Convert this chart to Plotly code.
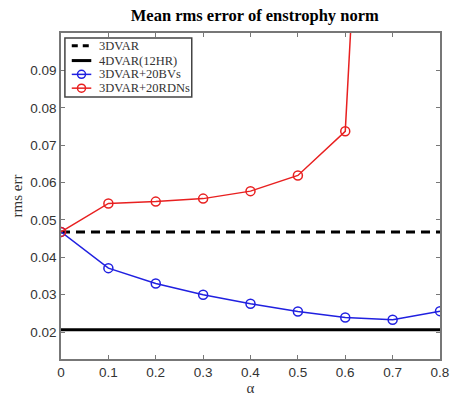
import plotly.graph_objects as go

alpha = [0, 0.1, 0.2, 0.3, 0.4, 0.5, 0.6, 0.7, 0.8]
bv = [0.0468, 0.0371, 0.0330, 0.0300, 0.0276, 0.0255, 0.0239, 0.0233, 0.0256]
alpha_rdn = [0, 0.1, 0.2, 0.3, 0.4, 0.5, 0.6, 0.7]
rdn = [0.0468, 0.0544, 0.0549, 0.0557, 0.0577, 0.0619, 0.0737, 0.31]
x_span = [0, 0.8]
var3d = [0.0468, 0.0468]
var4d = [0.0206, 0.0206]
xticks = [0, 0.1, 0.2, 0.3, 0.4, 0.5, 0.6, 0.7, 0.8]
yticks = [0.02, 0.03, 0.04, 0.05, 0.06, 0.07, 0.08, 0.09]
legend_names = ["3DVAR", "4DVAR(12HR)", "3DVAR+20BVs", "3DVAR+20RDNs"]

BLUE = "#2020e0"
RED = "#e82020"
styles = [
    dict(color="black", width=3, dash="6px,5px", marker=False),
    dict(color="black", width=3, dash="solid", marker=False),
    dict(color=BLUE, width=1.5, dash="solid", marker=True),
    dict(color=RED, width=1.5, dash="solid", marker=True),
]

fig = go.Figure()
fig.add_trace(go.Scatter(x=x_span, y=var3d, mode="lines", name=legend_names[0],
                         line=dict(color="black", width=3, dash="9px,6px")))
fig.add_trace(go.Scatter(x=x_span, y=var4d, mode="lines", name=legend_names[1],
                         line=dict(color="black", width=3)))
fig.add_trace(go.Scatter(x=alpha, y=bv, mode="lines+markers", name=legend_names[2],
                         line=dict(color=BLUE, width=1.5),
                         marker=dict(symbol="circle-open", size=9, color=BLUE, line=dict(width=1.5))))
fig.add_trace(go.Scatter(x=alpha_rdn, y=rdn, mode="lines+markers", name=legend_names[3],
                         line=dict(color=RED, width=1.5),
                         marker=dict(symbol="circle-open", size=9, color=RED, line=dict(width=1.5))))

axis_common = dict(showline=True, mirror="ticks", linecolor="#777", linewidth=1.5,
                   ticks="inside", ticklen=4, tickcolor="#777", showgrid=False, zeroline=False,
                   tickfont=dict(family="Liberation Sans", size=13.5, color="#333"))
fig.update_xaxes(range=[0, 0.8], tickvals=xticks, ticktext=[f"{v:g}" for v in xticks],
                 title=dict(text="α", font=dict(family="Liberation Serif", size=15, color="#333"), standoff=2),
                 **axis_common)
fig.update_yaxes(range=[0.0128, 0.1], tickvals=yticks, ticktext=[f"{v:.2f}" for v in yticks],
                 title=dict(text="rms err", font=dict(family="Liberation Serif", size=15, color="#333"), standoff=4),
                 **axis_common)

# Compact legend box (drawn in paper coordinates)
shapes = [dict(type="rect", xref="paper", yref="paper", x0=0.0103, x1=0.345, y0=0.8036, y1=0.985,
               line=dict(color="#444", width=1.5), fillcolor="white", layer="above")]
annotations = []
entry_y = [0.9607, 0.9154, 0.8731, 0.8308]
for name, st, yy in zip(legend_names, styles, entry_y):
    shapes.append(dict(type="line", xref="paper", yref="paper", x0=0.0284, x1=0.0799, y0=yy, y1=yy,
                       line=dict(color=st["color"], width=st["width"], dash=st["dash"]), layer="above"))
    if st["marker"]:
        shapes.append(dict(type="circle", xref="paper", yref="paper", xsizemode="pixel", ysizemode="pixel",
                           xanchor=0.0541, yanchor=yy, x0=-4, x1=4, y0=-4, y1=4,
                           line=dict(color=st["color"], width=1.5), layer="above"))
    annotations.append(dict(text=name, xref="paper", yref="paper", x=0.0954, y=yy, xanchor="left",
                            yanchor="middle", showarrow=False,
                            font=dict(family="Liberation Serif", size=12.5, color="#333")))

fig.update_layout(
    width=459, height=402,
    margin=dict(l=61, r=10, t=33, b=38),
    paper_bgcolor="white", plot_bgcolor="white",
    title=dict(text="<b>Mean rms error of enstrophy norm</b>", x=0.555, xanchor="center", y=0.962, yanchor="middle",
               font=dict(family="Liberation Serif", size=16.5, color="black")),
    showlegend=False,
    shapes=shapes,
    annotations=annotations,
)

fig.write_html("out.html", config={"displayModeBar": False})
with open("out.html", "r", encoding="utf-8") as f:
    html = f.read()
html = html.replace("<head>", "<head><style>html,body{margin:0;padding:0;overflow:hidden;}</style>", 1)
with open("out.html", "w", encoding="utf-8") as f:
    f.write(html)
